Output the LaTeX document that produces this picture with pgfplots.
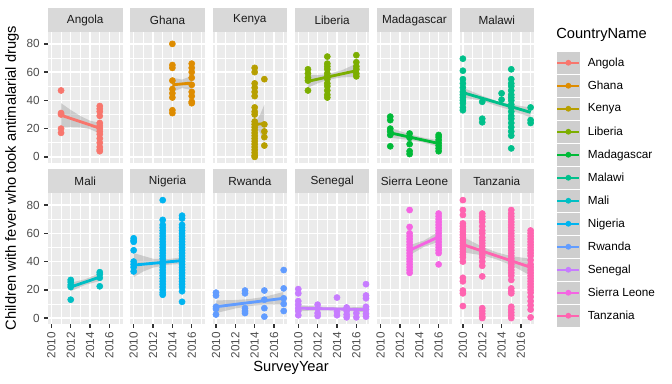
\documentclass[border=0pt]{standalone}
\usepackage{pgfplots}
\pgfplotsset{compat=1.18}
\usepackage{fontspec}
\setmainfont{Liberation Sans}
\definecolor{panelbg}{HTML}{EBEBEB}
\definecolor{stripbg}{HTML}{D9D9D9}
\definecolor{keybg}{HTML}{CECECE}
\definecolor{grey10}{HTML}{1A1A1A}
\definecolor{grey20}{HTML}{333333}
\definecolor{grey30}{HTML}{4D4D4D}
\definecolor{grey60}{HTML}{999999}
\definecolor{cAngola}{HTML}{F8766D}
\definecolor{cGhana}{HTML}{DE8C00}
\definecolor{cKenya}{HTML}{B79F00}
\definecolor{cLiberia}{HTML}{7CAE00}
\definecolor{cMadagascar}{HTML}{00BA38}
\definecolor{cMalawi}{HTML}{00C08B}
\definecolor{cMali}{HTML}{00BFC4}
\definecolor{cNigeria}{HTML}{00B4F0}
\definecolor{cRwanda}{HTML}{619CFF}
\definecolor{cSenegal}{HTML}{C77CFF}
\definecolor{cSierra}{HTML}{F564E3}
\definecolor{cTanzania}{HTML}{FF64B0}
\newcommand{\smallfont}{\fontsize{8.8}{10}\selectfont}
\newcommand{\strip}[3]{%
  \fill[stripbg] (#1pt,#2pt) rectangle ++(55.875pt,18.375pt);
  \path (#1pt,#2pt) ++(27.94pt,9.19pt) node[font=\smallfont, text=grey10, inner sep=0pt] {#3};}
\pgfplotsset{
  facet/.style={scale only axis, width=55.875pt, height=97.875pt, anchor=north west,
    xmin=2009.65, xmax=2017.35, ymin=-4.2, ymax=88.2,
    axis background/.style={fill=panelbg}, axis line style={draw=none},
    grid=both, major grid style={white, line width=1.07pt}, minor grid style={white, line width=0.53pt},
    xtick={2010,2012,2014,2016}, ytick={0,20,40,60,80},
    minor xtick={2011,2013,2015,2017}, minor ytick={10,30,50,70},
    tick align=outside, tick pos=left, major tick length=2.75pt, minor tick length=0pt,
    tick style={grey20, line width=1.07pt},
    xticklabels={}, yticklabels={}, xmajorticks=false, ymajorticks=false,
    ticklabel style={font=\smallfont, text=grey30}},
  bottomrow/.style={xmajorticks=true, xticklabels={2010,2012,2014,2016},
    xticklabel style={rotate=90, anchor=east}},
  leftcol/.style={ymajorticks=true, yticklabels={0,20,40,60,80}},
  pts/.style={only marks, mark=*, mark size=2.3pt, mark options={draw=none}, forget plot},
  band/.style={fill=grey60, fill opacity=0.4, draw=none, forget plot},
  fit/.style={line width=2.13pt, no marks, forget plot},
  legkey/.style={legend image code/.code={
    \path[draw=none, fill=keybg] (0pt,-8.25pt) rectangle (17.25pt,8.25pt);
    \path[draw=none, fill=none] (0pt,-8.625pt) rectangle (17.25pt,8.625pt);
    \path[draw, line width=1.7pt] (0.4pt,0pt) -- (16.85pt,0pt);
    \path[draw=none, fill] (8.625pt,0pt) circle (2.2pt);}},
}
\begin{document}
\begin{tikzpicture}
\useasboundingbox (0,0) rectangle (504pt,288pt);
% ---------- row 1 ----------
\begin{axis}[facet, leftcol, at={(36pt,263.775pt)}]
\addplot[pts, color=cAngola] coordinates {(2011,47)(2011,31)(2011,30)(2011,20)(2011,17)
(2015,36)(2015,34)(2015,32)(2015,29)(2015,24)(2015,22)(2015,20)(2015,18)(2015,16)(2015,13)(2015,10)(2015,7)(2015,5)(2015,4)};
\addplot[band] coordinates {(2011,38)(2012,33.2)(2013,28.9)(2014,25.6)(2015,24.1)(2015,16.5)(2014,19.6)(2013,20.9)(2012,21.2)(2011,21)} -- cycle;
\addplot[fit, color=cAngola] coordinates {(2011,29.5)(2015,20.3)};
\end{axis}
\strip{36}{263.775}{Angola}
\begin{axis}[facet, at={(97.725pt,263.775pt)}]
\addplot[pts, color=cGhana] coordinates {(2014,80)(2014,65)(2014,63)(2014,54)(2014,48)(2014,45)(2014,42)(2014,33)(2014,31)
(2016,66)(2016,63)(2016,60)(2016,56)(2016,51)(2016,46)(2016,43)(2016,39)(2016,38)};
\addplot[band] coordinates {(2014,56)(2015,54.7)(2016,57.3)(2016,47.3)(2015,48.7)(2014,46)} -- cycle;
\addplot[fit, color=cGhana] coordinates {(2014,51)(2016,52.3)};
\end{axis}
\strip{97.725}{263.775}{Ghana}
\begin{axis}[facet, at={(159.45pt,263.775pt)}]
\addplot[pts, color=cKenya] coordinates {(2014,63)(2014,60)(2014,52)(2014,49)(2014,46)(2014,43)(2014,35)(2014,32)(2014,30)(2014,25)(2014,23)(2014,21)(2014,19)(2014,17)(2014,15)(2014,13)(2014,11)(2014,9)(2014,7)(2014,5)(2014,3)(2014,1)(2014,0)
(2015,55)(2015,23)(2015,18)(2015,14)(2015,8)};
\addplot[band] coordinates {(2014,26)(2014.3,27)(2014.6,30.5)(2015,37)(2015,10)(2014.6,16.5)(2014.3,19.5)(2014,20)} -- cycle;
\addplot[fit, color=cKenya] coordinates {(2014,23)(2015,23.5)};
\end{axis}
\strip{159.45}{263.775}{Kenya}
\begin{axis}[facet, at={(221.175pt,263.775pt)}]
\addplot[pts, color=cLiberia] coordinates {(2011,62)(2011,59)(2011,56)(2011,54)(2011,47)
(2013,71)(2013,66)(2013,64)(2013,62)(2013,59)(2013,57)(2013,55)(2013,52)(2013,50)(2013,47)(2013,44)(2013,42)
(2016,72)(2016,67)(2016,64)(2016,62)(2016,59)(2016,57)};
\addplot[band] coordinates {(2011,58)(2012,57.8)(2013,58.5)(2014.5,61.3)(2016,66)(2016,56.5)(2014.5,56.3)(2013,54.5)(2012,52)(2011,49)} -- cycle;
\addplot[fit, color=cLiberia] coordinates {(2011,53.5)(2016,61)};
\end{axis}
\strip{221.175}{263.775}{Liberia}
\begin{axis}[facet, at={(282.9pt,263.775pt)}]
\addplot[pts, color=cMadagascar] coordinates {(2011,28.5)(2011,26)(2011,20)(2011,18)(2011,15.5)(2011,7.5)
(2013,16.5)(2013,13.5)(2013,9)(2013,4)(2013,2)
(2016,15.5)(2016,14)(2016,12)(2016,10)(2016,8)(2016,6)(2016,4)};
\addplot[band] coordinates {(2011,20.5)(2013,16)(2014.5,13.5)(2016,11.8)(2016,7.2)(2014.5,10)(2013,12)(2011,13.5)} -- cycle;
\addplot[fit, color=cMadagascar] coordinates {(2011,17)(2016,9.5)};
\end{axis}
\strip{282.9}{263.775}{Madagascar}
\begin{axis}[facet, at={(344.625pt,263.775pt)}, legend cell align=left,
  legend style={at={(1.2953,0.8567)}, anchor=north west, draw=none, fill=none, inner sep=0pt,
    row sep=0pt, column sep=5.5pt, font=\smallfont, nodes={inner sep=0pt}}]
\addplot[pts, color=cMalawi] coordinates {(2010,69.5)(2010,61)(2010,55)(2010,52)(2010,49)(2010,46)(2010,44)(2010,42)(2010,40)(2010,38)(2010,35)(2010,33)
(2012,39)(2012,27)(2012,24.5)(2014,45)(2014,40.5)
(2015,62)(2015,55)(2015,52)(2015,50)(2015,47)(2015,44)(2015,42)(2015,40)(2015,37)(2015,35)(2015,32)(2015,29)(2015,27)(2015,24)(2015,21)(2015,18)(2015,15)(2015,6)
(2017,35)(2017,26)(2017,24)};
\addplot[band] coordinates {(2010,49)(2012,43.2)(2013.5,39.5)(2015,37)(2017,35)(2017,28)(2015,33)(2013.5,36)(2012,39.8)(2010,42)} -- cycle;
\addplot[fit, color=cMalawi] coordinates {(2010,45.5)(2017,31.5)};
\addlegendimage{legkey, color=cAngola}\addlegendentry{Angola}
\addlegendimage{legkey, color=cGhana}\addlegendentry{Ghana}
\addlegendimage{legkey, color=cKenya}\addlegendentry{Kenya}
\addlegendimage{legkey, color=cLiberia}\addlegendentry{Liberia}
\addlegendimage{legkey, color=cMadagascar}\addlegendentry{Madagascar}
\addlegendimage{legkey, color=cMalawi}\addlegendentry{Malawi}
\addlegendimage{legkey, color=cMali}\addlegendentry{Mali}
\addlegendimage{legkey, color=cNigeria}\addlegendentry{Nigeria}
\addlegendimage{legkey, color=cRwanda}\addlegendentry{Rwanda}
\addlegendimage{legkey, color=cSenegal}\addlegendentry{Senegal}
\addlegendimage{legkey, color=cSierra}\addlegendentry{Sierra Leone}
\addlegendimage{legkey, color=cTanzania}\addlegendentry{Tanzania}
\end{axis}
\strip{344.625}{263.775}{Malawi}
% ---------- row 2 ----------
\begin{axis}[facet, leftcol, bottomrow, at={(36pt,142.875pt)}]
\addplot[pts, color=cMali] coordinates {(2012,27)(2012,25.5)(2012,23.5)(2012,22)(2012,13)
(2015,32.5)(2015,31)(2015,28.5)(2015,22.5)};
\addplot[band] coordinates {(2012,25)(2013.5,27.5)(2015,31.8)(2015,26.2)(2013.5,23.5)(2012,19)} -- cycle;
\addplot[fit, color=cMali] coordinates {(2012,22)(2015,29)};
\end{axis}
\strip{36}{142.875}{Mali}
\begin{axis}[facet, bottomrow, at={(97.725pt,142.875pt)}]
\addplot[pts, color=cNigeria] coordinates {(2010,56.5)(2010,55)(2010,54)(2010,48)(2010,40)(2010,38)(2010,36)(2010,33)
(2013,83.5)(2013,69.5)(2013,66)(2013,64)(2013,62)(2013,60)(2013,58)(2013,56)(2013,54)(2013,52)(2013,50)(2013,48)(2013,46)(2013,44)(2013,42)(2013,40)(2013,38)(2013,36)(2013,34)(2013,32)(2013,30)(2013,28)(2013,26)(2013,24)(2013,22)(2013,20)(2013,18)(2013,16.5)
(2015,72.5)(2015,70.5)(2015,66)(2015,64)(2015,62)(2015,60)(2015,58)(2015,56)(2015,54)(2015,52)(2015,50)(2015,48)(2015,46)(2015,44)(2015,42)(2015,40)(2015,38)(2015,36)(2015,34)(2015,32)(2015,30)(2015,28)(2015,26)(2015,24)(2015,22)(2015,19)(2015,11.5)};
\addplot[band] coordinates {(2010,46)(2011,44)(2012,42)(2013.5,41.7)(2015,43)(2015,38.4)(2013.5,37.7)(2012,35.7)(2011,33)(2010,29)} -- cycle;
\addplot[fit, color=cNigeria] coordinates {(2010,37.5)(2015,40.7)};
\end{axis}
\strip{97.725}{142.875}{Nigeria}
\begin{axis}[facet, bottomrow, at={(159.45pt,142.875pt)}]
\addplot[pts, color=cRwanda] coordinates {(2010,18)(2010,16)(2010,8)(2010,6.5)(2010,2.5)
(2013,19.5)(2013,17.5)(2013,7)(2013,5)(2013,3.5)
(2015,19.5)(2015,13)(2015,7)(2015,1)
(2017,34)(2017,21)(2017,14)(2017,10)(2017,5)};
\addplot[band] coordinates {(2010,12.5)(2012,12.8)(2013.5,13.5)(2015,15)(2017,18.5)(2017,9.5)(2015,9.6)(2013.5,8.5)(2012,6.8)(2010,3.5)} -- cycle;
\addplot[fit, color=cRwanda] coordinates {(2010,8)(2017,14)};
\end{axis}
\strip{159.45}{142.875}{Rwanda}
\begin{axis}[facet, bottomrow, at={(221.175pt,142.875pt)}]
\addplot[pts, color=cSenegal] coordinates {(2010,20.5)(2010,17.5)(2010,12)(2010,9.5)(2010,7)(2010,5)(2010,2)
(2012,9.5)(2012,7)(2012,3.5)(2012,1.5)
(2014,14.5)(2014,4.5)(2014,2)
(2015,7.5)(2015,5)(2015,2.5)(2015,0.5)
(2016,3.5)(2016,0.5)
(2017,24)(2017,16)(2017,14)(2017,8)(2017,6)(2017,3)(2017,1)};
\addplot[band] coordinates {(2010,9)(2013,7.8)(2015,7.5)(2017,8)(2017,4)(2015,5.3)(2013,5.5)(2010,5)} -- cycle;
\addplot[fit, color=cSenegal] coordinates {(2010,7)(2017,6)};
\end{axis}
\strip{221.175}{142.875}{Senegal}
\begin{axis}[facet, bottomrow, at={(282.9pt,142.875pt)}]
\addplot[pts, color=cSierra] coordinates {(2013,76.5)(2013,64.5)(2013,60)(2013,58)(2013,56)(2013,54)(2013,52)(2013,50)(2013,48)(2013,46)(2013,44)(2013,42)(2013,40)(2013,38)(2013,36)(2013,34)(2013,32)
(2016,74)(2016,72)(2016,70)(2016,68)(2016,66)(2016,64)(2016,62)(2016,60)(2016,58)(2016,56)(2016,54)(2016,52)(2016,50)(2016,48)(2016,46)(2016,38)};
\addplot[band] coordinates {(2013,51.5)(2014.5,55)(2016,61)(2016,54)(2014.5,50.5)(2013,44.5)} -- cycle;
\addplot[fit, color=cSierra] coordinates {(2013,48)(2016,57.5)};
\end{axis}
\strip{282.9}{142.875}{Sierra Leone}
\begin{axis}[facet, bottomrow, at={(344.625pt,142.875pt)}]
\addplot[pts, color=cTanzania] coordinates {(2010,83.5)(2010,76.5)(2010,73)(2010,67)(2010,65)(2010,63)(2010,61)(2010,59)(2010,57)(2010,55)(2010,53)(2010,51)(2010,49)(2010,47)(2010,45)(2010,43)(2010,40)(2010,28.5)(2010,26)(2010,19.5)(2010,17.5)(2010,8.5)
(2012,74)(2012,72)(2012,70)(2012,68)(2012,65)(2012,62)(2012,60)(2012,57)(2012,55)(2012,53)(2012,51)(2012,49)(2012,47)(2012,45)(2012,43)(2012,40)(2012,37)(2012,29.5)(2012,7)(2012,5)(2012,3)(2012,1)(2012,0)
(2015,76.5)(2015,74)(2015,72)(2015,70)(2015,68)(2015,66)(2015,64)(2015,62)(2015,60)(2015,58)(2015,56)(2015,54)(2015,52)(2015,50)(2015,48)(2015,46)(2015,44)(2015,42)(2015,40)(2015,38)(2015,36)(2015,34)(2015,32)(2015,30)(2015,27)(2015,21)(2015,19)(2015,17.5)(2015,8)(2015,6)(2015,4)(2015,2)(2015,0)
(2017,62)(2017,60)(2017,58)(2017,56)(2017,54)(2017,52)(2017,50)(2017,48)(2017,46)(2017,44)(2017,41)(2017,38)(2017,36)(2017,34)(2017,32)(2017,30)(2017,28)(2017,26)(2017,24)(2017,22)(2017,20)(2017,18)(2017,15)(2017,12)(2017,9)(2017,6)(2017,0.5)};
\addplot[band] coordinates {(2010,57.5)(2012,50.5)(2013.5,46.5)(2015,43.8)(2017,42)(2017,30)(2015,37.5)(2013.5,41.5)(2012,44.5)(2010,46.5)} -- cycle;
\addplot[fit, color=cTanzania] coordinates {(2010,52)(2017,36)};
\end{axis}
\strip{344.625}{142.875}{Tanzania}
% ---------- titles ----------
\node[font=\fontsize{11}{13}\selectfont, rotate=90] at (9pt,154.5pt) {Children with fever who took antimalarial drugs};
\node[font=\fontsize{11}{13}\selectfont] at (218.25pt,12pt) {SurveyYear};
\node[font=\fontsize{11}{13}\selectfont, anchor=west, inner sep=0pt] at (417pt,261.75pt) {CountryName};
\end{tikzpicture}
\end{document}
